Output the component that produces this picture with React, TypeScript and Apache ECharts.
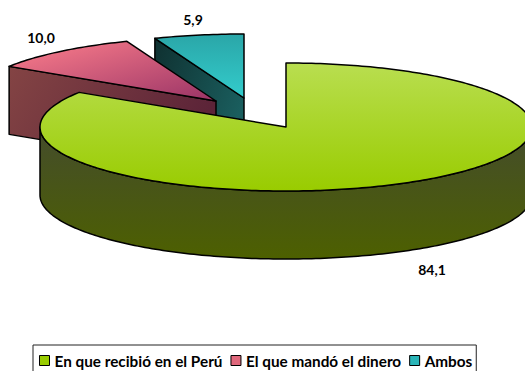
import React, { useEffect, useRef } from "react";
import * as echarts from "echarts";

const categories = ["En que recibió en el Perú", "El que mandó el dinero", "Ambos"];
const values = [84.1, 10.0, 5.9];
const FONT = "Lato";

const CENTER_X = 286, CENTER_Y = 127, RX = 246, RY = 64, DEPTH = 68;
const offsets = [[0, 0], [-70, -26], [-42, -29]];
const labelPos = [[432, 269], [41, 37], [193, 19]];
const grad = (x2: number, y2: number, a: string, b: string) =>
  new echarts.graphic.LinearGradient(0, 0, x2, y2, [
    { offset: 0, color: a },
    { offset: 1, color: b },
  ]);
const topFill = [
  () => grad(0, 1, "#b9de50", "#99cc00"),
  () => grad(1, 1, "#ff808c", "#993366"),
  () => grad(0, 1, "#2aa6a8", "#33cccc"),
];
const sideFill = [
  () => grad(0, 1, "#444c2c", "#4d6000"),
  () => grad(1, 0.3, "#844444", "#5c2438"),
  () => grad(1, 0.5, "#0f3030", "#1a5e5e"),
];
const swatches = ["#99cc00", "#e0687c", "#2ab5b8"];

function App() {
  const ref = useRef<HTMLDivElement>(null);
  useEffect(() => {
    document.body.style.margin = "0";
    const chart = echarts.init(ref.current!, null, { renderer: "svg" });
    const total = values.reduce((a, b) => a + b, 0);
    const stroke = { stroke: "#000", lineWidth: 1.5, lineJoin: "round" };
    const pt = (cx: number, cy: number, deg: number, dy = 0) => {
      const r = (deg * Math.PI) / 180;
      return [cx + RX * Math.sin(r), cy - RY * Math.cos(r) + dy];
    };
    const makeItem = (i: number) => (_: any, api: any) => {
      const v = api.value(0);
      const start = (values.slice(0, i).reduce((a, b) => a + b, 0) / total) * 360;
      const end = start + (v / total) * 360;
      const cx = CENTER_X + offsets[i][0];
      const cy = CENTER_Y + offsets[i][1];
      const rim: number[][] = [];
      for (let d = start; d < end; d += 1) rim.push(pt(cx, cy, d));
      rim.push(pt(cx, cy, end));
      const children: any[] = [];
      if (i === 0) {
        const a = Math.max(start, 90), b = Math.min(end, 270);
        const upper: number[][] = [], lower: number[][] = [];
        for (let d = a; d <= b; d += 1) {
          upper.push(pt(cx, cy, d));
          lower.unshift(pt(cx, cy, d, DEPTH));
        }
        children.push({
          type: "polygon",
          shape: { points: [...upper, ...lower] },
          style: { fill: sideFill[i](), ...stroke },
        });
      } else {
        const p = pt(cx, cy, start);
        children.push({
          type: "polygon",
          shape: { points: [p, [cx, cy], [cx, cy + DEPTH], [p[0], p[1] + DEPTH]] },
          style: { fill: sideFill[i](), ...stroke },
        });
      }
      children.push({
        type: "polygon",
        shape: { points: [[cx, cy], ...rim] },
        style: { fill: topFill[i](), ...stroke },
      });
      children.push({
        type: "text",
        style: {
          text: v.toFixed(1).replace(".", ","),
          x: labelPos[i][0],
          y: labelPos[i][1],
          align: "center",
          verticalAlign: "middle",
          fill: "#000",
          font: `bold 14px ${FONT}`,
        },
      });
      return { type: "group", children };
    };
    chart.setOption({
      animation: false,
      backgroundColor: "#fff",
      legend: {
        left: 33,
        top: 345,
        padding: [8, 4, 6, 6],
        itemGap: 8,
        itemWidth: 10,
        itemHeight: 10,
        borderColor: "#222",
        borderWidth: 1,
        textStyle: { fontFamily: FONT, fontWeight: "bold", fontSize: 15.3, color: "#000" },
        data: categories.map((name, i) => ({
          name,
          icon: "rect",
          itemStyle: { color: swatches[i], borderColor: "#000", borderWidth: 1 },
        })),
      },
      series: categories.map((name, i) => ({
        type: "custom",
        name,
        coordinateSystem: "none",
        z: 3 - i,
        silent: true,
        renderItem: makeItem(i),
        data: [[values[i]]],
        itemStyle: { color: swatches[i] },
      })),
    });
    return () => chart.dispose();
  }, []);
  return <div ref={ref} style={{ width: 525, height: 371 }} />;
}

export default App;
